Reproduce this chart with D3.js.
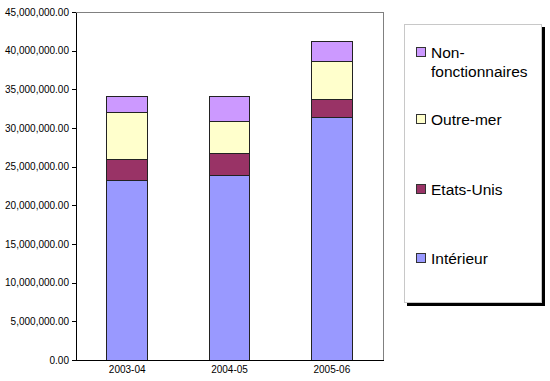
<!DOCTYPE html>
<html><head><meta charset="utf-8">
<script src="https://cdn.jsdelivr.net/npm/d3@7"></script>
<style>body{margin:0;background:#fff}svg{display:block;font-family:"Liberation Sans",Arial,sans-serif}</style>
</head><body>
<script>
const categories = ["2003-04", "2004-05", "2005-06"];
const seriesNames = ["Intérieur", "Etats-Unis", "Outre-mer", "Non-fonctionnaires"];
const interieur = [23230000, 23840000, 31420000];
const etatsUnis = [2760000, 2800000, 2330000];
const outreMer = [6040000, 4220000, 4830000];
const nonFonct = [2020000, 3190000, 2670000];
const yTicks = [0, 5000000, 10000000, 15000000, 20000000, 25000000, 30000000, 35000000, 40000000, 45000000];
const colors = ["#9999FF", "#993366", "#FFFFCC", "#CC99FF"];

const W = 550, H = 381;
const m = {left: 76, right: 167, top: 12, bottom: 21};
const svg = d3.select("body").append("svg").attr("width", W).attr("height", H);

const rows = categories.map((c, i) => ({cat: c, s0: interieur[i], s1: etatsUnis[i], s2: outreMer[i], s3: nonFonct[i]}));
const stack = d3.stack().keys(["s0", "s1", "s2", "s3"])(rows);

const x = d3.scaleBand().domain(categories).range([m.left, W - m.right]).paddingInner(0.6).paddingOuter(0.3);
const y = d3.scaleLinear().domain([0, 45000000]).range([H - m.bottom, m.top]);

// plot frame
svg.append("rect").attr("x", m.left).attr("y", m.top).attr("width", W - m.right - m.left).attr("height", H - m.bottom - m.top)
  .attr("fill", "#fff").attr("stroke", "#808080").attr("stroke-width", 1).attr("shape-rendering", "crispEdges");

// bars
const g = svg.append("g");
stack.forEach((layer, li) => {
  g.selectAll(null).data(layer).enter().append("rect")
    .attr("x", (d, i) => x(categories[i]))
    .attr("y", d => y(d[1]))
    .attr("width", x.bandwidth())
    .attr("height", d => y(d[0]) - y(d[1]))
    .attr("fill", colors[li])
    .attr("stroke", "#222").attr("stroke-width", 1).attr("shape-rendering", "crispEdges");
});

// y axis
const fmt = d3.format(",.2f");
const ya = svg.append("g").attr("transform", `translate(${m.left},0)`)
  .call(d3.axisLeft(y).tickValues(yTicks).tickFormat(fmt).tickSize(4).tickSizeOuter(0));
ya.select(".domain").attr("stroke", "#000").attr("shape-rendering", "crispEdges");
ya.selectAll("line").attr("stroke", "#000").attr("shape-rendering", "crispEdges");
ya.selectAll("text").attr("font-size", 10).attr("fill", "#000").attr("x", -7).attr("font-family", '"Liberation Sans",Arial,sans-serif');

// x axis
const xa = svg.append("g").attr("transform", `translate(0,${H - m.bottom})`)
  .call(d3.axisBottom(x).tickSize(0).tickSizeOuter(0));
xa.select(".domain").attr("stroke", "#000").attr("shape-rendering", "crispEdges");
xa.selectAll("text").attr("font-size", 10).attr("fill", "#000").attr("dy", "0.71em").attr("y", 6).attr("font-family", '"Liberation Sans",Arial,sans-serif');

// legend
const lg = svg.append("g");
lg.append("rect").attr("x", 407).attr("y", 27).attr("width", 138).attr("height", 279).attr("fill", "#000");
lg.append("rect").attr("x", 404.5).attr("y", 24.5).attr("width", 137).attr("height", 278).attr("fill", "#fff").attr("stroke", "#c8c8c8");
const legendItems = [
  {i: 3, lines: ["Non-", "fonctionnaires"], y: 52},
  {i: 2, lines: ["Outre-mer"], y: 119},
  {i: 1, lines: ["Etats-Unis"], y: 189},
  {i: 0, lines: ["Intérieur"], y: 258}
];
legendItems.forEach(it => {
  lg.append("rect").attr("x", 416.5).attr("y", it.y - 4.5).attr("width", 9).attr("height", 9)
    .attr("fill", colors[it.i]).attr("stroke", "#333").attr("shape-rendering", "crispEdges");
  const t = lg.append("text").attr("x", 431).attr("y", it.y + 5.5).attr("font-size", 15.5).attr("fill", "#000");
  it.lines.forEach((l, k) => t.append("tspan").attr("x", 431).attr("dy", k === 0 ? 0 : 19).text(l));
});
</script>
</body></html>
